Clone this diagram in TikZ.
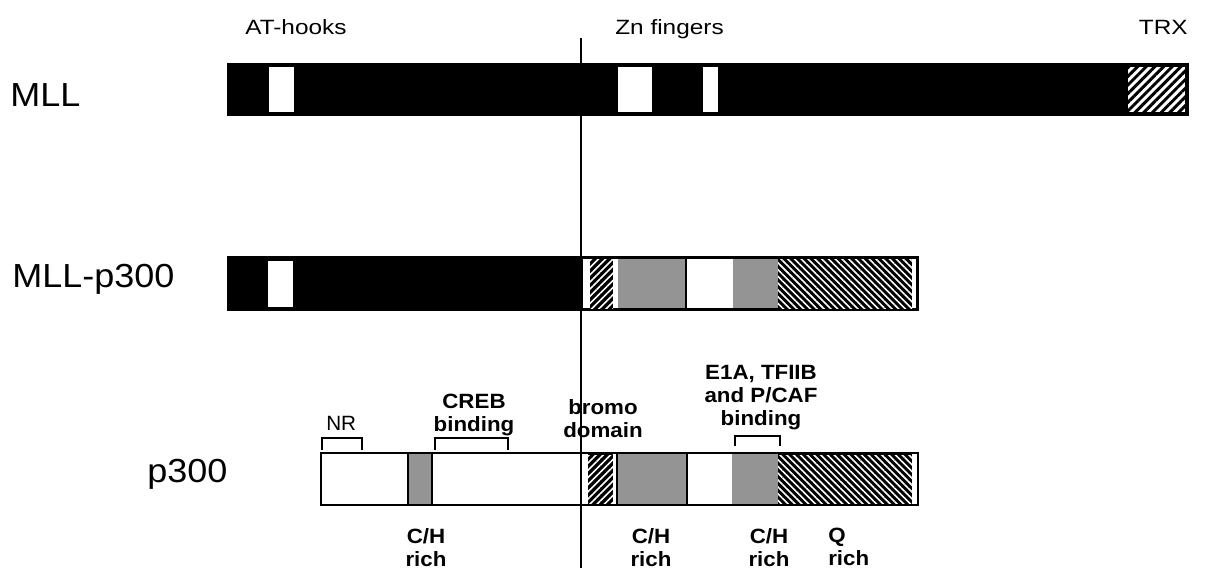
\documentclass[tikz,border=0pt]{standalone}
\usepackage{fontspec}
\setmainfont{Liberation Sans}
\usetikzlibrary{patterns.meta}
\begin{document}
\begin{tikzpicture}[x=0.75pt,y=-0.75pt,
  bar/.style={draw=black,line width=1.7pt},
  sep/.style={draw=black,line width=1.1pt},
  grayfill/.style={fill=black!42},
  lighthatch/.style={pattern={Lines[angle=45,distance=4.6pt,line width=2.2pt]},pattern color=black},
  darkhatchNE/.style={pattern={Lines[angle=45,distance=3.8pt,line width=1.2pt]},pattern color=white},
  darkhatchNW/.style={pattern={Lines[angle=-45,distance=3.6pt,line width=1.2pt]},pattern color=white},
  bigname/.style={inner sep=0pt,font=\fontsize{25}{28}\selectfont,xscale=1.08},
  toplabel/.style={inner sep=0pt,font=\fontsize{15.5}{18}\selectfont,xscale=1.18},
  boldlabel/.style={inner sep=0pt,align=center,font=\bfseries\fontsize{15.5}{17.4}\selectfont,xscale=1.08},
  bracket/.style={line width=1.6pt}]
\useasboundingbox (0,0) rectangle (1206,571);

% ---------- MLL ----------
\fill[black] (228,64) rectangle (1188,115);
\fill[white] (269,67) rectangle (294,112);
\fill[white] (618,67) rectangle (652,112);
\fill[white] (703,67) rectangle (718,112);
\fill[white] (1128,67) rectangle (1185,112);
\fill[lighthatch] (1128,67) rectangle (1185,112);
\draw[bar] (228,64) rectangle (1188,115);

% ---------- MLL-p300 ----------
\fill[black] (228,257) rectangle (918,310);
\fill[white] (268,261) rectangle (293,307);
\fill[white] (583,259) rectangle (590,308);
\fill[black] (590,259) rectangle (613,308);
\fill[darkhatchNE] (590,259) rectangle (613,308);
\fill[white] (613,259) rectangle (618,308);
\fill[grayfill] (618,259) rectangle (686,308);
\fill[white] (686,259) rectangle (733,308);
\fill[grayfill] (733,259) rectangle (778,308);
\fill[black] (778,259) rectangle (912,308);
\fill[darkhatchNW] (778,259) rectangle (912,308);
\fill[white] (912,259) rectangle (916,308);
\draw[sep] (686,258) -- (686,309);
\draw[bar] (228,257) rectangle (918,310);

% ---------- p300 ----------
\fill[white] (321,453) rectangle (918,505);
\fill[grayfill] (408,453) rectangle (432,505);
\draw[sep] (408,453) -- (408,505) (432,453) -- (432,505);
\fill[black] (588,453) rectangle (613,505);
\fill[darkhatchNE] (588,455) rectangle (613,503);
\fill[grayfill] (617,453) rectangle (687,505);
\draw[sep] (617,453) -- (617,505) (687,453) -- (687,505);
\fill[grayfill] (732,453) rectangle (778,505);
\fill[black] (778,453) rectangle (912,505);
\fill[darkhatchNW] (778,455) rectangle (912,503);
\draw[bar] (321,453) rectangle (918,505);

% ---------- brackets ----------
\draw[bracket] (322,450) -- (322,438) -- (362,438) -- (362,450);
\draw[bracket] (435,450) -- (435,438) -- (508,438) -- (508,450);
\draw[bracket] (735,446) -- (735,436) -- (780,436) -- (780,446);

% ---------- vertical reference line ----------
\coordinate (vtop) at (581,38);
\coordinate (vbot) at (581,568);
\draw[line width=1.8pt] (vtop) -- (vbot);

% ---------- names ----------
\node[bigname,anchor=base west] (mll) at (10,106) {MLL};
\node[bigname,anchor=base west] (mllp) at (12,287) {MLL-p300};
\node[bigname,anchor=base west] (p300) at (147,482) {p300};

% ---------- top labels ----------
\node[toplabel,anchor=base west] (athooks) at (245,34) {AT-hooks};
\node[toplabel,anchor=base west] (zn) at (615,34) {Zn fingers};
\node[toplabel,anchor=base east] (trx) at (1188,34) {TRX};

% ---------- p300 labels ----------
\node[inner sep=0pt,anchor=base west,font=\fontsize{15.5}{18}\selectfont] (nr) at (326,430) {NR};
\node[boldlabel,anchor=north] (creb) at (474,394) {CREB\\binding};
\node[boldlabel,anchor=north] (bromo) at (603,399) {bromo\\domain};
\node[boldlabel,anchor=north] (e1a) at (761,365) {E1A, TFIIB\\and P/CAF\\binding};
\node[boldlabel,anchor=north] (ch1) at (426,528) {C/H\\rich};
\node[boldlabel,anchor=north] (ch2) at (651,528) {C/H\\rich};
\node[boldlabel,anchor=north] (ch3) at (769,528) {C/H\\rich};
\node[boldlabel,anchor=north west,align=left] (qrich) at (828,528) {Q\\rich};
\end{tikzpicture}
\end{document}
